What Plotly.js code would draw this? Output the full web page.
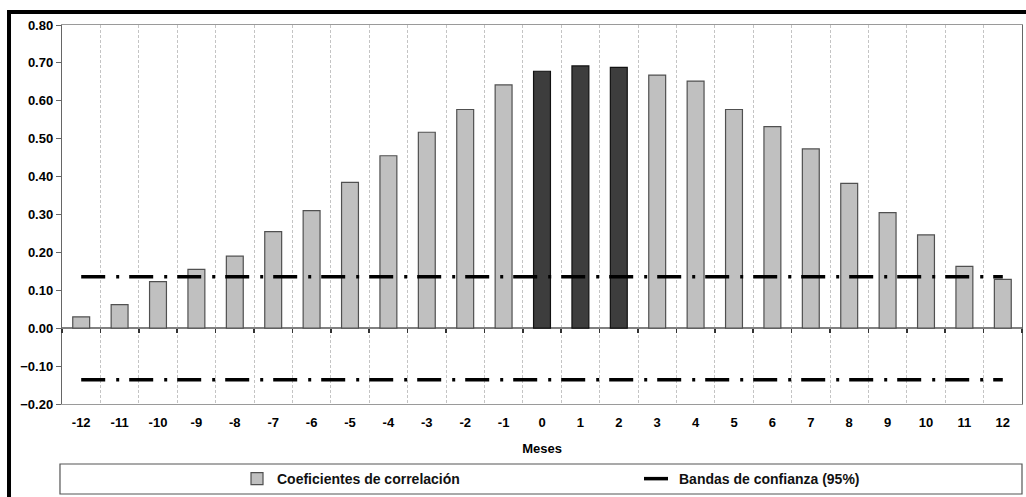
<!DOCTYPE html>
<html>
<head>
<meta charset="utf-8">
<script src="https://cdn.plot.ly/plotly-3.0.1.min.js"></script>
<style>html,body{margin:0;padding:0;background:#fff;}#chart{width:1026px;height:497px;}</style>
</head>
<body>
<div id="chart"></div>
<script>
const months = ["-12","-11","-10","-9","-8","-7","-6","-5","-4","-3","-2","-1","0","1","2","3","4","5","6","7","8","9","10","11","12"];
const correlation = [0.03,0.062,0.123,0.155,0.19,0.255,0.31,0.385,0.455,0.517,0.577,0.642,0.678,0.692,0.688,0.668,0.652,0.577,0.532,0.473,0.382,0.305,0.246,0.163,0.129];
const highlightedMonths = ["0","1","2"];
const bandUpper = 0.136;
const bandLower = -0.136;

const barColors = months.map(m => highlightedMonths.includes(m) ? '#3d3d3d' : '#c0c0c0');
const barLines = months.map(m => highlightedMonths.includes(m) ? '#111111' : '#505050');

const font = 'Liberation Sans, Arial, sans-serif';

const traces = [
  {
    type: 'bar', x: months, y: correlation, name: 'Coeficientes de correlación',
    marker: {color: barColors, line: {color: barLines, width: 1.2}},
    hoverinfo: 'x+y'
  },
  {
    type: 'scatter', mode: 'lines', x: months, y: months.map(() => bandUpper),
    xaxis: 'x2', name: 'Bandas de confianza (95%)', legendgroup: 'b',
    line: {color: '#000', width: 3.5, dash: '24px,11px,3px,10px'}
  },
  {
    type: 'scatter', mode: 'lines', x: months, y: months.map(() => bandLower),
    xaxis: 'x2', name: 'Bandas de confianza (95%)', legendgroup: 'b', showlegend: false,
    line: {color: '#000', width: 3.5, dash: '24px,11px,3px,10px'}
  }
];

const layout = {
  width: 1026, height: 497,
  margin: {l: 62, r: 4, t: 25, b: 93, autoexpand: false},
  paper_bgcolor: '#fff', plot_bgcolor: '#fff',
  bargap: 0.56,
  showlegend: true,
  font: {family: font, color: '#000', size: 13},
  xaxis: {
    type: 'category', categoryorder: 'array', categoryarray: months,
    range: [-0.5, 24.5],
    tickson: 'boundaries', ticks: '', showgrid: true,
    gridcolor: '#c4c4c4', griddash: '3px,2px', gridwidth: 1,
    showline: true, linecolor: '#9a9a9a', linewidth: 1, mirror: true,
    tickfont: {family: font, size: 13, color: '#000', weight: 'bold'},
    ticklabelstandoff: 6,
    title: {text: '<b>Meses</b>', font: {family: font, size: 13, color: '#000'}, standoff: 15},
    zeroline: false, fixedrange: true, automargin: false
  },
  xaxis2: {
    type: 'category', categoryorder: 'array', categoryarray: months,
    range: [-0.5, 24.5], overlaying: 'x', anchor: 'free', position: 0.2,
    side: 'bottom', tickson: 'boundaries', ticks: 'outside', ticklen: 4,
    tickcolor: '#333', tickwidth: 1.5,
    showticklabels: false, showgrid: false, showline: false, zeroline: false
  },
  yaxis: {
    range: [-0.2, 0.8], dtick: 0.1, tickformat: '.2f',
    ticks: 'outside', ticklen: 5, tickcolor: '#666',
    showgrid: false, showline: true, linecolor: '#666', linewidth: 1.2, mirror: true,
    zeroline: true, zerolinecolor: '#808080', zerolinewidth: 1.5,
    tickfont: {family: font, size: 13, color: '#000', weight: 'bold'},
    fixedrange: true, automargin: false
  },
  legend: {
    orientation: 'h', x: 0.1823, xanchor: 'left', y: -0.198, yanchor: 'middle',
    bgcolor: 'rgba(0,0,0,0)', borderwidth: 0,
    entrywidth: 357, entrywidthmode: 'pixels',
    font: {family: font, size: 14, color: '#111', weight: 'bold'}
  },
  shapes: [
    {type: 'rect', xref: 'paper', yref: 'paper', x0: -0.0021, x1: 1.0, y0: -0.2375, y1: -0.1583,
     line: {color: '#555', width: 1.2}, fillcolor: 'rgba(0,0,0,0)', layer: 'below'},
    {type: 'rect', xref: 'paper', yref: 'paper', x0: -0.0552, x1: 1.03, y0: -0.3, y1: 1.0343,
     line: {color: '#000', width: 4}, fillcolor: 'rgba(0,0,0,0)'}
  ]
};

Plotly.newPlot('chart', traces, layout, {displayModeBar: false, staticPlot: true});
</script>
</body>
</html>
